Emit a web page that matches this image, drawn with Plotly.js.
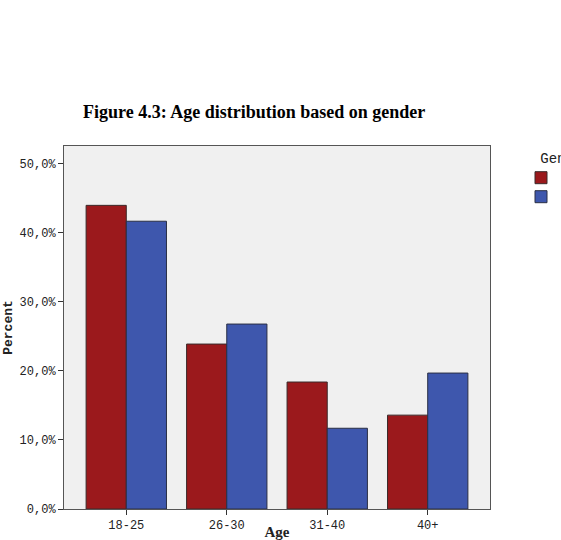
<!DOCTYPE html>
<html>
<head>
<meta charset="utf-8">
<script src="https://cdn.plot.ly/plotly-3.0.1.min.js"></script>
<style>html,body{margin:0;padding:0;background:#fff;overflow:hidden}#chart{width:561px;height:540px}</style>
</head>
<body>
<div id="chart"></div>
<script>
var ageGroups = ['18-25', '26-30', '31-40', '40+'];
var femaleValues = [44.0, 23.9, 18.4, 13.6];
var maleValues = [41.7, 26.8, 11.7, 19.7];
var seriesNames = ['Female', 'Male'];
var yTickValues = [0, 10, 20, 30, 40, 50];
var yTickLabels = ['0,0%', '10,0%', '20,0%', '30,0%', '40,0%', '50,0%'];

var traces = [
  {type: 'bar', name: seriesNames[0], x: ageGroups, y: femaleValues,
   marker: {color: '#9b191c', line: {color: '#3a2a2a', width: 1}}, hoverinfo: 'none'},
  {type: 'bar', name: seriesNames[1], x: ageGroups, y: maleValues,
   marker: {color: '#3e57ad', line: {color: '#2a2f44', width: 1}}, hoverinfo: 'none'}
];

var mono = 'Liberation Mono, DejaVu Sans Mono, monospace';
var layout = {
  width: 561, height: 540,
  margin: {l: 64, r: 71, t: 146, b: 31},
  paper_bgcolor: '#ffffff',
  plot_bgcolor: '#f0f0f0',
  barmode: 'group',
  bargap: 0.2,
  bargroupgap: 0,
  showlegend: true,
  title: {text: '<b>Figure 4.3: Age distribution based on gender</b>',
          font: {family: 'Liberation Serif, Times New Roman, serif', size: 18, color: '#000'},
          x: 83/561, xanchor: 'left', xref: 'container', y: 1 - 112/540, yanchor: 'middle', yref: 'container'},
  xaxis: {
    range: [-0.62, 3.62], fixedrange: true,
    showline: true, linecolor: '#555', linewidth: 1, mirror: true,
    ticks: 'outside', ticklen: 5, tickcolor: '#333',
    tickfont: {family: mono, size: 12, color: '#222'},
    showgrid: false, zeroline: false, automargin: false,
    title: {text: '<b>Age</b>', font: {family: 'Liberation Serif, serif', size: 15, color: '#222'}, standoff: 25}
  },
  yaxis: {
    range: [0, 52.6], fixedrange: true,
    tickvals: yTickValues, ticktext: yTickLabels,
    showline: true, linecolor: '#555', linewidth: 1, mirror: true,
    ticks: 'outside', ticklen: 5, tickcolor: '#333',
    tickfont: {family: mono, size: 12, color: '#222'},
    showgrid: false, zeroline: false, automargin: false,
    title: {text: '<b>Percent</b>', font: {family: mono, size: 13, color: '#222'}, standoff: 4}
  },
  legend: {
    xref: 'container', yref: 'container',
    x: 521/561, xanchor: 'left', y: 1 - 145/540, yanchor: 'top',
    bgcolor: 'rgba(0,0,0,0)',
    title: {text: 'Gender', side: 'top center', font: {family: mono, size: 14, color: '#222'}},
    font: {family: mono, size: 12, color: '#222'},
    tracegroupgap: 0, itemwidth: 30
  }
};

Plotly.newPlot('chart', traces, layout, {staticPlot: true, displayModeBar: false});
</script>
</body>
</html>
